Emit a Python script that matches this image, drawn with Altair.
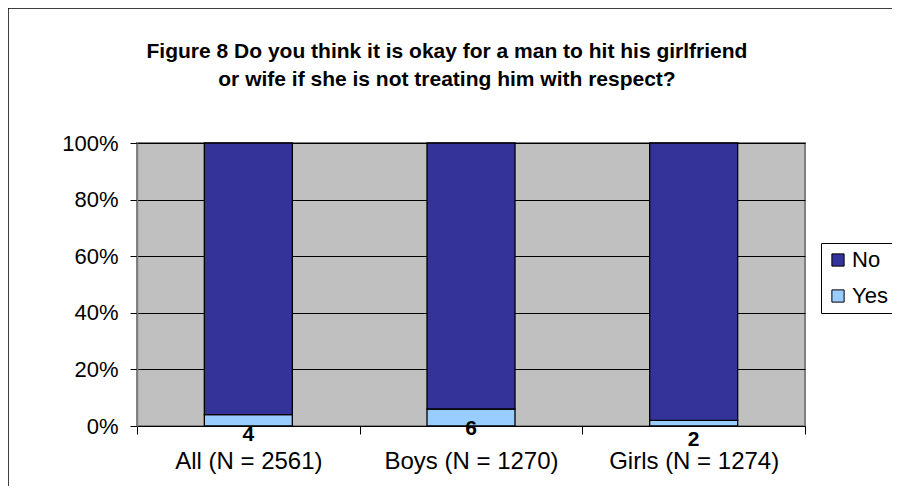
import altair as alt
import pandas as pd

categories = ["All (N = 2561)", "Boys (N = 1270)", "Girls (N = 1274)"]
yes_values = [4, 6, 2]
no_values = [96, 94, 98]
responses = ["No", "Yes"]
colors = ["#333399", "#99CCFF"]
y_ticks = [0, 20, 40, 60, 80, 100]
title_lines = ["Figure 8 Do you think it is okay for a man to hit his girlfriend",
               "or wife if she is not treating him with respect?"]

rows = []
for c, y, n in zip(categories, yes_values, no_values):
    rows.append({"Group": c, "Response": "Yes", "Value": y, "ord": 0})
    rows.append({"Group": c, "Response": "No", "Value": n, "ord": 1})
df = pd.DataFrame(rows)
lab = pd.DataFrame({"Group": categories, "Yes": yes_values, "Label": [str(v) for v in yes_values]})

FONT = "Liberation Sans"

xenc = alt.X("Group:N", sort=categories, title=None,
             scale=alt.Scale(paddingInner=0, paddingOuter=0),
             axis=alt.Axis(labelAngle=0, labelFontSize=24, labelColor="black",
                           tickBand="extent", tickSize=8, tickColor="black",
                           domainColor="black", labelPadding=15, labelFont=FONT))

bars = alt.Chart(df).mark_bar(size=88, stroke="black", strokeWidth=1.3).encode(
    x=xenc,
    y=alt.Y("Value:Q", stack="zero", title=None,
            scale=alt.Scale(domain=[0, 100], nice=False),
            axis=alt.Axis(values=y_ticks, labelExpr="datum.value + '%'",
                          labelFontSize=22, labelColor="black", labelFont=FONT,
                          tickSize=7, tickColor="black", labelPadding=12,
                          domainColor="#808080", domainWidth=1.5,
                          grid=True, gridColor="black", gridOpacity=1, gridWidth=1)),
    color=alt.Color("Response:N", scale=alt.Scale(domain=responses, range=colors),
                    legend=alt.Legend(title=None, orient="none", legendX=684, legendY=100,
                                      symbolType="square", symbolSize=150,
                                      symbolStrokeColor="black", symbolStrokeWidth=1,
                                      labelFontSize=22, labelFont=FONT, labelColor="black",
                                      strokeColor="black", padding=6, rowPadding=14,
                                      labelOffset=3)),
    order=alt.Order("ord:Q", sort="ascending"),
)

labels = alt.Chart(lab).mark_text(fontSize=21, fontWeight="bold", font=FONT,
                                  baseline="middle", dy=20, color="black").encode(
    x=alt.X("Group:N", sort=categories),
    y=alt.Y("Yes:Q"),
    text="Label:N",
)

border = alt.Chart(pd.DataFrame({"a": [0]})).mark_rect(
    fillOpacity=0, stroke="black", strokeWidth=1.5).encode(
    x=alt.value(-129), x2=alt.value(900), y=alt.value(-135), y2=alt.value(600))

title_df = pd.DataFrame({"line": title_lines, "i": [0, 1]})
title1 = alt.Chart(title_df).mark_text(
    fontSize=21, fontWeight="bold", font=FONT, color="black",
    baseline="middle", align="center").encode(
    x=alt.value(310),
    y=alt.value(-91),
    text="line:N",
).transform_filter("datum.i == 0")
title2 = alt.Chart(title_df).mark_text(
    fontSize=21, fontWeight="bold", font=FONT, color="black",
    baseline="middle", align="center").encode(
    x=alt.value(310),
    y=alt.value(-63),
    text="line:N",
).transform_filter("datum.i == 1")

chart = alt.layer(border, bars, labels, title1, title2).properties(
    width=668, height=283,
    padding={"left": 129, "top": 135, "right": 87, "bottom": 60},
    autosize=alt.AutoSizeParams(type="none"),
).configure_view(fill="#C0C0C0", stroke="#808080", strokeWidth=2)

chart.save("out.html", embed_options={"renderer": "svg", "actions": False})
